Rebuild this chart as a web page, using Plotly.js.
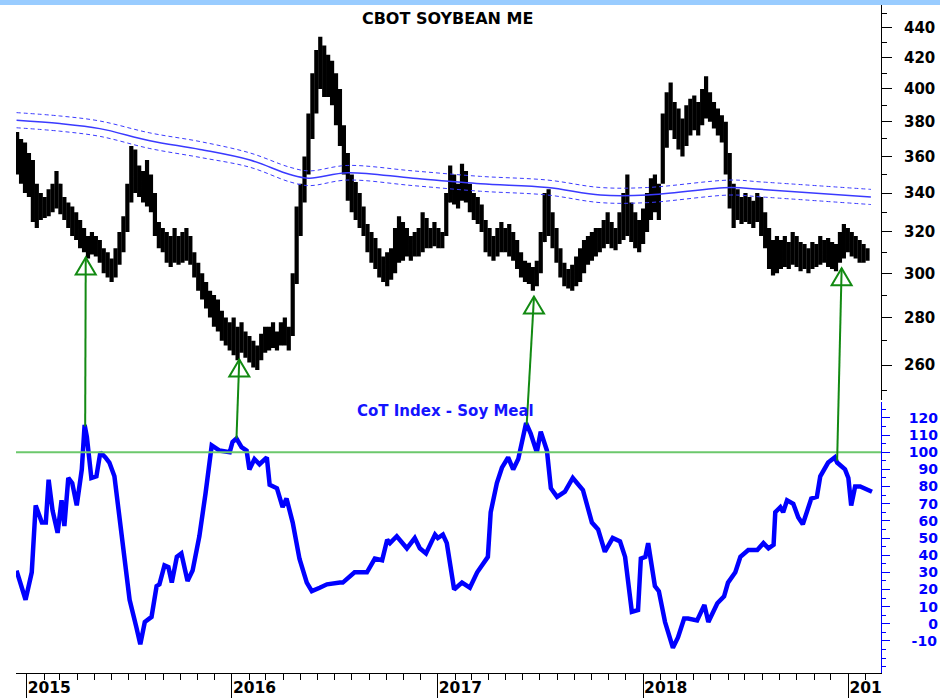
<!DOCTYPE html>
<html>
<head>
<meta charset="utf-8">
<script src="https://cdn.plot.ly/plotly-3.0.1.min.js"></script>
<style>html,body{margin:0;padding:0;background:#fff;}#chart{width:940px;height:698px;}</style>
</head>
<body>
<div id="chart"></div>
<script>
// ---------- DATA ----------
const chartTitle = 'CBOT SOYBEAN ME';
const cotTitle = 'CoT Index - Soy Meal';

// weekly price bars, first week starting:
const weekStart = '2014-12-15';
const priceHigh = [
374,370,368,362,358,345,340,338,342,345,
352,345,338,335,333,330,326,322,318,320,
318,316,312,310,307,312,320,328,345,366,
364,355,352,358,350,340,325,322,320,318,
322,318,320,322,318,310,305,300,296,292,
290,288,283,280,278,280,276,278,274,272,
270,268,273,276,276,278,274,278,280,276,
300,333,345,360,385,410,425,434,428,422,
418,410,400,378,362,350,346,340,333,324,
320,317,312,308,310,312,322,328,325,322,
318,320,322,330,327,322,325,322,320,340,
355,350,345,356,352,345,340,338,334,326,
322,318,322,325,322,324,320,316,310,306,
305,303,306,320,340,342,330,322,312,305,
302,304,308,312,316,318,320,322,322,326,
330,325,322,330,340,350,335,330,326,332,
340,348,350,345,385,398,404,392,388,382,
390,394,396,392,400,408,398,392,388,384,
380,362,345,342,338,340,338,336,340,338,
330,322,316,318,316,318,315,320,318,315,
314,312,315,314,318,316,317,315,314,320,
324,322,320,318,316,314,312];
const priceLow = [
350,345,340,338,325,322,326,327,328,330,
332,329,326,322,318,316,312,310,307,309,
308,305,300,298,296,298,304,310,320,335,
340,338,335,333,330,318,312,310,305,303,
305,304,305,306,304,298,292,288,284,280,
276,274,270,268,266,264,262,265,263,261,
259,258,262,265,266,267,266,268,268,266,
272,295,318,335,350,370,385,400,395,395,
390,378,366,350,336,330,326,322,318,310,
305,302,298,296,294,297,300,305,306,308,
306,308,308,310,312,312,313,312,312,318,
335,334,332,336,335,330,326,324,320,310,
308,306,308,310,310,308,306,302,298,296,
295,292,294,300,315,318,312,305,298,294,
293,292,294,296,300,304,306,308,310,312,
314,312,311,314,316,318,315,312,310,314,
320,326,330,326,345,365,375,370,364,360,
366,372,375,372,378,382,380,376,372,368,
350,332,322,326,324,325,324,322,325,318,
312,302,299,300,302,303,302,304,303,301,
302,300,302,303,304,305,303,302,301,305,
307,310,308,307,305,305,306];
const priceOpen = [
372,356,350,345,352,328,334,330,335,340,
334,344,332,330,326,322,320,316,314,314,
315,312,308,302,300,300,310,318,325,340,
352,350,342,345,340,334,320,315,312,308,
310,310,308,312,310,306,300,294,290,286,
283,279,276,272,271,268,266,266,268,265,
263,261,264,270,268,272,270,270,274,270,
274,298,320,340,355,380,405,418,410,410,
400,400,385,370,355,340,335,332,328,320,
315,310,306,300,300,305,308,318,310,315,
312,310,316,315,320,318,318,316,316,320,
336,345,340,342,345,340,335,330,330,322,
315,312,312,318,315,318,312,310,306,300,
302,300,298,302,316,335,325,316,308,302,
298,298,300,305,310,312,315,316,318,318,
322,320,318,318,326,330,330,325,318,322,
328,335,342,340,348,380,380,385,380,372,
378,385,380,390,380,395,390,385,382,378,
374,355,340,330,334,330,336,330,334,332,
322,316,306,310,306,312,308,310,310,306,
310,306,306,310,308,312,308,308,306,312,
318,312,316,312,312,310,308];
const priceClose = [
355,350,344,350,328,334,330,335,340,333,
348,332,330,325,322,320,315,313,314,315,
312,308,302,300,300,310,318,325,342,350,
350,342,345,340,334,320,315,312,308,310,
310,308,312,310,306,300,294,290,286,283,
279,276,272,271,268,266,266,268,265,263,
261,264,270,268,272,270,270,274,270,270,
296,320,340,355,380,405,418,410,410,400,
400,385,370,355,340,335,332,328,320,315,
310,306,300,300,305,308,318,310,315,312,
310,316,315,320,318,318,316,316,315,336,
345,340,342,345,340,335,330,330,322,315,
312,312,318,315,318,312,310,306,300,302,
300,298,300,316,335,325,316,308,302,298,
298,300,305,310,312,315,316,318,318,322,
320,318,318,326,330,330,325,318,322,328,
335,342,340,340,380,380,385,380,372,378,
385,380,390,380,395,390,385,382,378,374,
355,340,330,334,330,336,330,334,332,322,
316,306,310,306,312,308,310,310,306,310,
306,306,310,308,312,308,308,306,312,318,
312,316,312,312,310,308,308];

// moving average band
const maDates = ['2014-12-14','2015-03-01','2015-05-11','2015-08-08','2015-11-05','2016-02-02','2016-04-13','2016-05-17','2016-07-24','2016-11-18','2017-03-18','2017-07-15','2017-10-17','2018-01-09','2018-06-06','2018-07-29','2019-02-10'];
const maMid   = [381,379,376,369,364,358,350,348,351,348,345,343,339,339,343,342,338];
const maUpper = [385.5,383.5,380.5,373.5,368.5,362,354,352,355,352,349,347,343,343,347,346,342];
const maLower = [376.5,374.5,371.5,364.5,359.5,354,346,344,347,344,341,339,335,335,339,338,334];

// CoT index
const cotDates = ['2014-12-14','2014-12-30','2015-01-10','2015-01-17','2015-01-28','2015-02-04','2015-02-09','2015-02-16','2015-02-25','2015-03-04','2015-03-09','2015-03-16','2015-03-23','2015-03-31','2015-04-09','2015-04-14','2015-04-18','2015-04-26','2015-05-05','2015-05-12','2015-05-21','2015-05-28','2015-06-06','2015-06-20','2015-07-03','2015-07-15','2015-07-22','2015-07-30','2015-08-11','2015-08-20','2015-08-25','2015-09-03','2015-09-10','2015-09-16','2015-09-25','2015-10-03','2015-10-14','2015-10-23','2015-11-04','2015-11-15','2015-11-26','2015-12-10','2015-12-28','2016-01-02','2016-01-09','2016-01-18','2016-01-27','2016-02-01','2016-02-10','2016-02-19','2016-03-03','2016-03-08','2016-03-21','2016-03-31','2016-04-07','2016-04-18','2016-04-30','2016-05-13','2016-05-22','2016-06-05','2016-06-18','2016-07-11','2016-07-16','2016-08-06','2016-08-28','2016-09-11','2016-09-24','2016-10-03','2016-10-08','2016-10-20','2016-11-07','2016-11-21','2016-11-30','2016-12-11','2016-12-27','2017-01-01','2017-01-10','2017-01-17','2017-01-30','2017-02-13','2017-02-27','2017-03-12','2017-03-26','2017-03-31','2017-04-05','2017-04-16','2017-04-25','2017-05-06','2017-05-15','2017-05-24','2017-06-07','2017-06-15','2017-06-26','2017-07-03','2017-07-14','2017-07-21','2017-08-01','2017-08-15','2017-08-29','2017-09-16','2017-10-02','2017-10-13','2017-10-25','2017-11-08','2017-11-21','2017-11-30','2017-12-12','2017-12-23','2017-12-28','2018-01-05','2018-01-10','2018-01-22','2018-01-29','2018-02-09','2018-02-23','2018-03-04','2018-03-15','2018-03-22','2018-04-07','2018-04-20','2018-04-27','2018-05-13','2018-05-25','2018-06-01','2018-06-14','2018-06-23','2018-07-07','2018-07-23','2018-08-03','2018-08-12','2018-08-21','2018-08-24','2018-09-02','2018-09-07','2018-09-14','2018-09-25','2018-10-04','2018-10-12','2018-10-27','2018-11-06','2018-11-12','2018-11-26','2018-12-08','2018-12-12','2018-12-26','2019-01-01','2019-01-06','2019-01-13','2019-01-22','2019-02-12'];
const cotValues = [31,14,30,69,59,59,84,66,53,72,57,85,82,69,90,116,109,85,86,100,97,94,86,49,14,-2,-12,1,4,22,23,34,33,24,39,41,25,31,51,76,104,101,100,106,108,103,101,90,96,93,97,81,79,68,73,59,38,24,19,21,23,24,24,30,30,38,37,49,47,51,44,50,44,41,52,50,52,47,20,24,21,30,36,39,65,82,91,97,90,96,117,111,100,112,101,79,74,77,85,78,59,55,42,50,48,39,7,8,38,39,47,22,19,1,-14,-8,3,3,2,11,1,12,16,24,30,39,43,43,47,44,46,65,68,65,72,70,62,58,73,74,86,94,97,94,90,85,69,80,80,77];

// signal arrows (CoT peak -> price low)
const arrowTailDates  = ['2015-04-15','2016-01-09','2017-06-08','2018-12-12'];
const arrowTailCot    = [115,108,116,95];
const arrowHeadDates  = ['2015-04-16','2016-01-14','2017-06-21','2018-12-20'];
const arrowHeadPrice  = [307.5,262.3,289.3,302.4];
const cotSignalLevel = 100;

// axis ticks / labels
const priceTicks = [260,280,300,320,340,360,380,400,420,440];
const priceMinorTicks = [250,270,290,310,330,350,370,390,410,430,450];
const cotTicks = [-10,0,10,20,30,40,50,60,70,80,90,100,110,120];
const cotTickText = ['\u2009-10','\u2007\u20070','\u200710','\u200720','\u200730','\u200740','\u200750','\u200760','\u200770','\u200780','\u200790','100','110','120'];
const cotMinorTicks = [-25,-20,-15,-5,5,15,25,35,45,55,65,75,85,95,105,115,125];

// ---------- BUILD ----------
const DAY = 864e5;
const t0 = Date.parse(weekStart + 'T00:00:00Z');
const weekDates = priceHigh.map((_, i) => new Date(t0 + i * 7 * DAY).toISOString().slice(0, 10));

const FONT = 'DejaVu Sans, Verdana, sans-serif';
const maColor = '#3b3bff';

const traces = [
  {type:'scatter', mode:'lines', x:maDates, y:maUpper, xaxis:'x', yaxis:'y', line:{color:maColor, width:1, dash:'4px,3px', shape:'spline'}, hoverinfo:'skip'},
  {type:'scatter', mode:'lines', x:maDates, y:maLower, xaxis:'x', yaxis:'y', line:{color:maColor, width:1, dash:'4px,3px', shape:'spline'}, hoverinfo:'skip'},
  {type:'scatter', mode:'lines', x:maDates, y:maMid, xaxis:'x', yaxis:'y', line:{color:'#3a3aff', width:1.5, shape:'spline'}, hoverinfo:'skip'},
  {type:'ohlc', x:weekDates, open:priceOpen, high:priceHigh, low:priceLow, close:priceClose, xaxis:'x', yaxis:'y',
   increasing:{line:{color:'#000', width:4.2}}, decreasing:{line:{color:'#000', width:4.2}}, tickwidth:0.25, hoverinfo:'skip'},
  {type:'scatter', mode:'lines', x:cotDates, y:cotValues, xaxis:'x', yaxis:'y2', line:{color:'#0000ff', width:4.5}, hoverinfo:'skip'}
];

const layout = {
  width:940, height:698,
  margin:{l:16, r:59, t:5, b:25},
  paper_bgcolor:'#ffffff', plot_bgcolor:'#ffffff',
  showlegend:false,
  font:{family:FONT, size:15, color:'#000', weight:'bold'},
  title:{text:chartTitle, x:0.499, xref:'paper', xanchor:'center', y:0.9805, yref:'paper', yanchor:'middle',
         font:{family:FONT, size:16, color:'#000', weight:'bold'}},
  xaxis:{type:'date', range:['2014-12-13','2019-02-28'], anchor:'y2', showgrid:false, zeroline:false,
         showline:true, linecolor:'#000', linewidth:1,
         tickmode:'linear', tick0:'2015-01-01', dtick:'M12', tickformat:'%Y', labelalias:{'2019':'201'},
         ticks:'outside', ticklen:25, tickwidth:1, tickcolor:'#000',
         ticklabelposition:'outside right', ticklabelstandoff:0,
         tickfont:{family:FONT, size:15.5, color:'#000', weight:'bold'},
         minor:{ticks:'outside', ticklen:6, tickwidth:1, tickcolor:'#000', tickmode:'linear', tick0:'2015-01-01', dtick:'M1', showgrid:false},
         rangeslider:{visible:false}, fixedrange:true},
  yaxis:{type:'log', domain:[0.4087, 1], range:[Math.log10(246.2), Math.log10(456)], side:'right', anchor:'x',
         showgrid:false, zeroline:false, showline:true, linecolor:'#000', linewidth:1,
         tickmode:'array', tickvals:priceTicks, ticktext:priceTicks.map(String),
         ticks:'outside', ticklen:10, tickwidth:1, tickcolor:'#000', ticklabelstandoff:9,
         tickfont:{family:FONT, size:15, color:'#000', weight:'bold'},
         minor:{tickmode:'array', tickvals:priceMinorTicks, ticks:'outside', ticklen:5, tickwidth:1, tickcolor:'#000', showgrid:false},
         fixedrange:true},
  yaxis2:{domain:[0, 0.4057], range:[-28.7, 129.3], side:'right', anchor:'x',
         showgrid:false, zeroline:false, showline:true, linecolor:'#0000ff', linewidth:1,
         tickmode:'array', tickvals:cotTicks, ticktext:cotTickText,
         ticks:'outside', ticklen:8, tickwidth:1, tickcolor:'#0000ff', ticklabelstandoff:16,
         tickfont:{family:FONT, size:14, color:'#0000ff', weight:'bold'},
         minor:{tickmode:'array', tickvals:cotMinorTicks, ticks:'outside', ticklen:4, tickwidth:1, tickcolor:'#0000ff', showgrid:false},
         fixedrange:true},
  annotations:[
    {text:cotTitle, xref:'paper', yref:'paper', x:0.497, y:0.3922, xanchor:'center', yanchor:'middle', showarrow:false,
     font:{family:FONT, size:15, color:'#1414ff', weight:'bold'}}
  ],
  shapes:[
    {type:'rect', xref:'paper', yref:'paper', x0:-0.02, x1:1.08, y0:1, y1:1.0076, fillcolor:'#99ccff', line:{width:0}, layer:'above'},
    {type:'line', xref:'paper', yref:'y2', x0:0, x1:1, y0:cotSignalLevel, y1:cotSignalLevel, line:{color:'#6cc86c', width:2}, layer:'above'}
  ]
};

const gdiv = document.getElementById('chart');
Plotly.newPlot(gdiv, traces, layout, {displayModeBar:false, staticPlot:true}).then(function(gd){
  const fl = gd._fullLayout, xa = fl.xaxis, ya = fl.yaxis, yb = fl.yaxis2, s = fl._size;
  const PX = d => (xa._offset + xa.l2p(xa.d2l(d)) - s.l) / s.w;
  const PYprice = v => 1 - (ya._offset + ya.l2p(ya.c2l(v)) - s.t) / s.h;
  const PYcot = v => 1 - (yb._offset + yb.l2p(yb.c2l(v)) - s.t) / s.h;
  const green = '#128a12';
  const tw = 10 / s.w, th = 17 / s.h;
  const extra = [];
  arrowTailDates.forEach(function(td, i){
    const x0 = PX(td), y0 = PYcot(arrowTailCot[i]);
    const x1 = PX(arrowHeadDates[i]), y1 = PYprice(arrowHeadPrice[i]);
    extra.push({type:'line', xref:'paper', yref:'paper', x0:x0, y0:y0, x1:x1, y1:y1, line:{color:green, width:2}, layer:'above'});
    extra.push({type:'path', xref:'paper', yref:'paper',
      path:'M' + x1 + ',' + y1 + ' L' + (x1 - tw) + ',' + (y1 - th) + ' L' + (x1 + tw) + ',' + (y1 - th) + ' Z',
      line:{color:green, width:2}, fillcolor:'rgba(0,0,0,0)', layer:'above'});
  });
  return Plotly.relayout(gd, {shapes: layout.shapes.concat(extra)});
});
</script>
</body>
</html>
